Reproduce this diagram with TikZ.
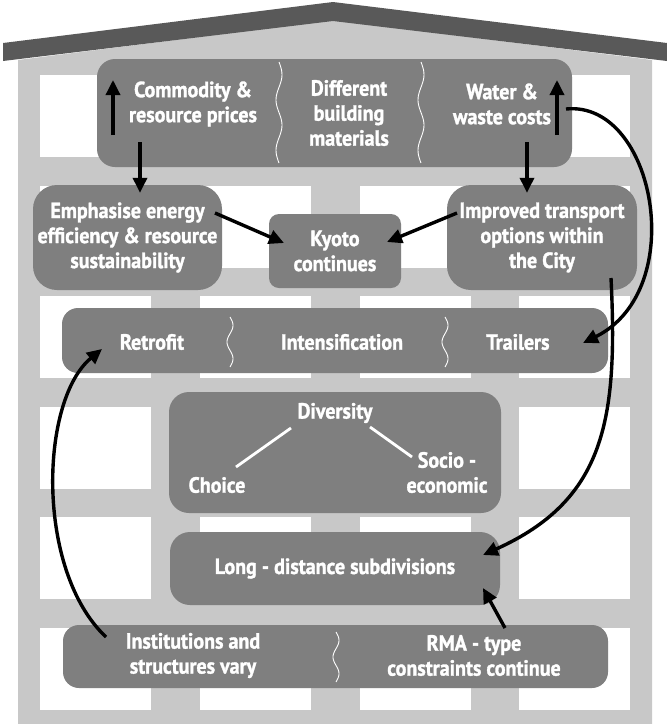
\documentclass[tikz,border=0pt]{standalone}
\usepackage{fontspec}
\setsansfont{PT Sans}[BoldFeatures={FakeBold=1.4, FakeStretch=0.91}]
\usetikzlibrary{arrows.meta}
\definecolor{roofgrey}{HTML}{595959}
\definecolor{wallgrey}{HTML}{C8C8C8}
\definecolor{boxgrey}{HTML}{7F7F7F}
\tikzset{
  housebox/.style={rectangle, fill=boxgrey, rounded corners=#1, inner sep=0pt,
    text=white, font=\sffamily\bfseries\fontsize{22}{25}\selectfont, align=center},
  housebox/.default=16pt,
  boxtext/.style={text=white, font=\sffamily\bfseries\fontsize{22}{25}\selectfont,
    align=center, inner sep=0pt},
  flowarrow/.style={-{Triangle[length=15pt,width=14pt]}, line width=3.4pt, black},
  wavyline/.style={white, line width=0.9pt},
  forkline/.style={white, line width=2.8pt},
}

\begin{document}
\begin{tikzpicture}[x=1pt, y=-1pt]
  \useasboundingbox (0,0) rectangle (667,724);
  % house
  \fill[wallgrey] (18,724) -- (18,60) -- (333,20) -- (652,60) -- (652,724) -- cycle;
  \foreach \wx in {40,200,360,519}
    \foreach \wy in {75,185.5,296,406.5,517,627.5}
      \fill[white] (\wx,\wy) rectangle ++(111,82);
  \fill[roofgrey] (3,43) -- (333,2) -- (667,43) -- (667,61) -- (333,21) -- (3,61) -- cycle;

  % boxes
  \node[housebox=18pt, minimum width=475pt, minimum height=108pt] (drivers) at (334.5,113) {};
  \node[housebox=24pt, minimum width=189pt, minimum height=105pt] (emph) at (127.5,237.5)
    {Emphasise energy\\efficiency \& resource\\sustainability};
  \node[housebox=10pt, minimum width=132pt, minimum height=74pt] (kyoto) at (335,251)
    {Kyoto\\continues};
  \node[housebox=24pt, minimum width=190pt, minimum height=105pt] (transp) at (542,237.5)
    {Improved transport\\options within\\the City};
  \node[housebox, minimum width=546pt, minimum height=65pt] (housing) at (335,340.5) {};
  \node[housebox=20pt, minimum width=332pt, minimum height=121pt] (divers) at (335,452.5) {};
  \node[housebox=20pt, minimum width=330pt, minimum height=73pt] (longd) at (335,568.5)
    {Long - distance subdivisions};
  \node[housebox, minimum width=545pt, minimum height=63pt] (rules) at (335.5,656.5) {};

  % texts in the split boxes
  \node[boxtext] (commod) at (193,104) {Commodity \&\\resource prices};
  \node[boxtext] (materials) at (349,113) {Different\\building\\materials};
  \node[boxtext] (water) at (502,104) {Water \&\\waste costs};
  \node[boxtext] (retrofit) at (152,342) {Retrofit};
  \node[boxtext] (intens) at (342,342) {Intensification};
  \node[boxtext] (trailers) at (518,342) {Trailers};
  \node[boxtext] (divtitle) at (335,413) {Diversity};
  \node[boxtext] (choice) at (217,485) {Choice};
  \node[boxtext] (socio) at (447,472.5) {Socio -\\economic};
  \node[boxtext] (inst) at (193,655.5) {Institutions and\\structures vary};
  \node[boxtext] (rma) at (474,655.5) {RMA - type\\constraints continue};

  % wavy dividers
  \foreach \sx/\sy/\sl/\sw in {279/62/101/2, 421/62/101/2, 230/317/50/1.5, 445/317/50/1.5, 336/632/50/1.5}
    \draw[wavyline] plot[domain=0:1, samples=40, variable=\t] ({\sx+3*sin(360*\sw*\t)}, {\sy+\sl*\t});

  % diversity fork
  \draw[forkline] (291,428) -- (236,467);
  \draw[forkline] (370,427) -- (412,457);

  % trend arrows
  \coordinate (commodlo) at (113,135); \coordinate (commodhi) at (113,80);
  \coordinate (waterlo) at (557,135);  \coordinate (waterhi) at (557,80);
  \draw[flowarrow] (commodlo) -- (commodhi);
  \draw[flowarrow] (waterlo) -- (waterhi);

  % links
  \coordinate (commodout) at (140,142);
  \coordinate (waterout) at (527,142);
  \draw[flowarrow] (commodout) -- ([yshift=-8pt]emph.north -| commodout);
  \draw[flowarrow] (waterout) -- ([yshift=-8pt]transp.north -| waterout);
  \coordinate (emphout) at (215,213);  \coordinate (kyotoinl) at (284,243);
  \coordinate (transpout) at (457,213); \coordinate (kyotoinr) at (387,242);
  \draw[flowarrow] (emphout) -- (kyotoinl);
  \draw[flowarrow] (transpout) -- (kyotoinr);
  \coordinate (wateredge) at (566,109); \coordinate (trailersin) at (583,343);
  \draw[flowarrow] (wateredge) .. controls (655,100) and (690,290) .. (trailersin);
  \coordinate (transpbase) at (611,278); \coordinate (longdin) at (483,555);
  \draw[flowarrow] (transpbase) .. controls (618,420) and (605,500) .. (longdin);
  \coordinate (instout) at (106,637); \coordinate (retrofitin) at (102,349);
  \draw[flowarrow] (instout) .. controls (35,570) and (40,400) .. (retrofitin);
  \coordinate (rmaout) at (505,628); \coordinate (longdbase) at (483,588);
  \draw[flowarrow] (rmaout) -- (longdbase);
\end{tikzpicture}
\end{document}
